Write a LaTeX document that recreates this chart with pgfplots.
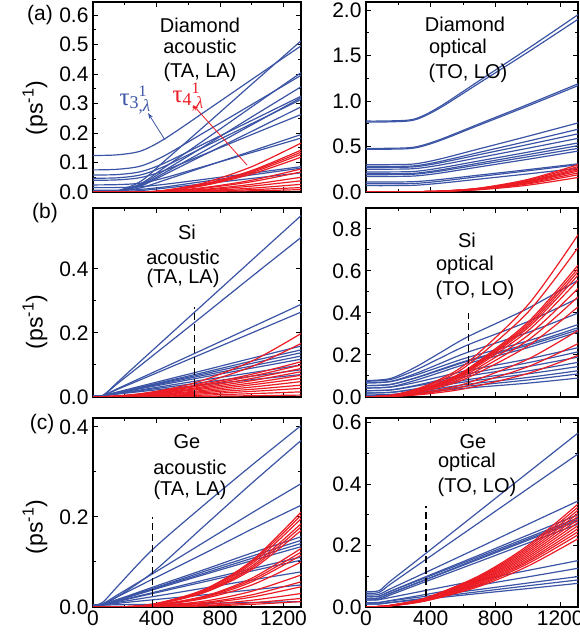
\documentclass[border=0pt]{standalone}
\usepackage{pgfplots}
\pgfplotsset{compat=1.18}
\usepackage{fontspec}
\setmainfont{Liberation Sans}
\newfontfamily\serif{Liberation Serif}
\usetikzlibrary{arrows.meta}
\definecolor{bl}{RGB}{59,84,165}
\definecolor{rd}{RGB}{236,28,36}
\pgfplotsset{
 panel/.style={scale only axis, anchor=south west, xmin=0, xmax=1310, ymin=0,
  xtick={0,400,800,1200}, minor x tick num=1, minor y tick num=1,
  tick align=inside, tick pos=both, axis line style={line width=1.5pt},
  major tick length=5pt, minor tick length=3pt,
  every tick/.style={line width=1pt, black},
  tick label style={font=\fontsize{21}{21}\selectfont},
  yticklabel style={xshift=-1pt},
  /pgf/number format/assume math mode=true,
  yticklabel style={/pgf/number format/.cd, fixed, fixed zerofill, precision=1},
  xticklabel style={/pgf/number format/.cd, fixed, precision=0, 1000 sep={}},
  xticklabels={}},
 bottom/.style={xticklabels={0,400,800,1200}},
 bc/.style={bl, line width=1.2pt, smooth, no marks},
 rc/.style={rd, line width=1.2pt, smooth, no marks},
 dsh/.style={black, line width=1.1pt, dash pattern=on 7pt off 4pt, no marks},
}
\newcommand\cA[8]{\addplot[#1] coordinates {(0,#2)(150,#3)(300,#4)(450,#5)(700,#6)(1000,#7)(1310,#8)};}
\newcommand\cBl[8]{\addplot[#1] coordinates {(0,#2)(60,#3)(150,#4)(300,#5)(640,#6)(1000,#7)(1310,#8)};}
\newcommand\cBr[8]{\addplot[#1] coordinates {(0,#2)(150,#3)(300,#4)(450,#5)(632,#6)(1000,#7)(1310,#8)};}
\newcommand\cCl[8]{\addplot[#1] coordinates {(0,#2)(60,#3)(150,#4)(376,#5)(700,#6)(1000,#7)(1310,#8)};}
\newcommand\cCr[8]{\addplot[#1] coordinates {(0,#2)(80,#3)(150,#4)(371,#5)(700,#6)(1000,#7)(1310,#8)};}
\newcommand\fs[1]{\fontsize{#1}{#1}\selectfont}
\begin{document}
\begin{tikzpicture}
\useasboundingbox (0,0) rectangle (579pt,639pt);
% ---------------- (a) left
\begin{axis}[panel, at={(93pt,447pt)}, width=208pt, height=190pt, ymax=0.645, ytick={0,0.1,0.2,0.3,0.4,0.5,0.6}]
\cA{bc}{0}{.004}{.036}{.105}{.223}{.366}{.513}
\cA{bc}{.124}{.126}{.139}{.180}{.271}{.382}{.496}
\cA{bc}{0}{.003}{.028}{.083}{.176}{.289}{.405}
\cA{bc}{.075}{.077}{.088}{.123}{.202}{.297}{.396}
\cA{bc}{0}{.003}{.025}{.073}{.155}{.255}{.357}
\cA{bc}{.058}{.059}{.069}{.098}{.164}{.243}{.325}
\cA{bc}{0}{.003}{.022}{.065}{.139}{.228}{.320}
\cA{bc}{.047}{.048}{.058}{.087}{.153}{.232}{.314}
\cA{bc}{0}{.002}{.020}{.059}{.126}{.206}{.289}
\cA{bc}{.040}{.041}{.049}{.073}{.128}{.195}{.263}
\cA{bc}{0}{.002}{.014}{.040}{.085}{.139}{.195}
\cA{bc}{.024}{.025}{.030}{.048}{.087}{.134}{.183}
\cA{bc}{.015}{.015}{.018}{.026}{.043}{.064}{.086}
\cA{bc}{.006}{.006}{.009}{.017}{.036}{.058}{.081}
\cA{bc}{0}{.001}{.005}{.013}{.028}{.046}{.065}
\cA{rc}{0}{0}{0}{.0055}{.031}{.086}{.166}
\cA{rc}{0}{0}{0}{.005}{.027}{.073}{.142}
\cA{rc}{0}{0}{0}{.0045}{.026}{.070}{.135}
\cA{rc}{0}{0}{0}{.004}{.024}{.066}{.128}
\cA{rc}{0}{0}{0}{.004}{.022}{.061}{.118}
\cA{rc}{0}{0}{0}{.003}{.015}{.040}{.078}
\cA{rc}{0}{0}{0}{.002}{.013}{.035}{.068}
\cA{rc}{0}{0}{0}{.002}{.009}{.026}{.050}
\cA{rc}{0}{0}{0}{.001}{.007}{.020}{.038}
\cA{rc}{0}{0}{0}{.001}{.005}{.013}{.026}
\cA{rc}{0}{0}{0}{0}{.003}{.008}{.015}
\cA{rc}{0}{0}{0}{0}{.002}{.004}{.008}
\end{axis}
% ---------------- (a) right
\begin{axis}[panel, at={(366pt,447pt)}, width=212pt, height=190pt, ymax=2.09, ytick={0,0.5,1,1.5,2}]
\cA{bc}{.78}{.782}{.803}{.932}{1.225}{1.576}{1.95}
\cA{bc}{.77}{.772}{.793}{.917}{1.199}{1.538}{1.90}
\cA{bc}{.48}{.481}{.494}{.572}{.750}{.963}{1.19}
\cA{bc}{.47}{.471}{.484}{.561}{.736}{.946}{1.17}
\cA{bc}{.30}{.301}{.309}{.360}{.475}{.613}{.76}
\cA{bc}{.28}{.281}{.288}{.333}{.436}{.559}{.69}
\cA{bc}{.27}{.271}{.277}{.318}{.411}{.522}{.64}
\cA{bc}{.25}{.251}{.257}{.294}{.379}{.481}{.59}
\cA{bc}{.22}{.221}{.226}{.262}{.342}{.438}{.54}
\cA{bc}{.20}{.201}{.206}{.240}{.318}{.411}{.51}
\cA{bc}{.19}{.191}{.196}{.228}{.300}{.387}{.48}
\cA{bc}{.17}{.171}{.176}{.206}{.276}{.360}{.45}
\cA{bc}{.11}{.110}{.114}{.136}{.186}{.246}{.31}
\cA{bc}{.09}{.090}{.094}{.117}{.170}{.233}{.30}
\cA{bc}{.07}{.070}{.074}{.095}{.142}{.199}{.26}
\cA{rc}{.004}{.004}{.004}{.0085}{.043}{.138}{.30}
\cA{rc}{.004}{.004}{.004}{.0082}{.040}{.129}{.28}
\cA{rc}{.004}{.004}{.004}{.0079}{.038}{.120}{.26}
\cA{rc}{.004}{.004}{.004}{.0077}{.036}{.113}{.245}
\cA{rc}{.004}{.004}{.004}{.0075}{.034}{.107}{.23}
\cA{rc}{.004}{.004}{.004}{.0072}{.031}{.098}{.21}
\cA{rc}{.004}{.004}{.004}{.0069}{.029}{.089}{.19}
\cA{rc}{.004}{.004}{.004}{.0064}{.025}{.075}{.16}
\end{axis}
% ---------------- (b) left
\begin{axis}[panel, at={(93pt,242pt)}, width=208pt, height=189pt, ymax=0.59, ytick={0,0.2,0.4}]
\cBl{bc}{.004}{.004}{.044}{.112}{.265}{.427}{.566}
\cBl{bc}{.004}{.004}{.040}{.099}{.233}{.376}{.498}
\cBl{bc}{.004}{.004}{.025}{.059}{.136}{.218}{.289}
\cBl{bc}{.004}{.004}{.023}{.054}{.125}{.200}{.265}
\cBl{bc}{.004}{.004}{.015}{.034}{.076}{.121}{.159}
\cBl{bc}{.004}{.004}{.014}{.031}{.070}{.112}{.147}
\cBl{bc}{.004}{.004}{.014}{.030}{.066}{.105}{.138}
\cBl{bc}{.004}{.004}{.013}{.028}{.062}{.097}{.128}
\cBl{bc}{.004}{.004}{.012}{.026}{.057}{.090}{.118}
\cBl{bc}{.004}{.004}{.011}{.022}{.049}{.076}{.100}
\cBl{bc}{.004}{.004}{.010}{.020}{.042}{.065}{.085}
\cBl{bc}{.004}{.004}{.009}{.017}{.035}{.054}{.070}
\cBl{rc}{0}{.0003}{.002}{.009}{.044}{.112}{.198}
\cBl{rc}{0}{.0003}{.0018}{.0075}{.037}{.095}{.167}
\cBl{rc}{0}{.0008}{.0034}{.0105}{.035}{.071}{.110}
\cBl{rc}{0}{.0007}{.0031}{.0095}{.032}{.065}{.100}
\cBl{rc}{0}{.0006}{.0028}{.0085}{.028}{.058}{.089}
\cBl{rc}{0}{.0006}{.0024}{.0075}{.025}{.051}{.079}
\cBl{rc}{0}{.0005}{.0021}{.0065}{.022}{.044}{.068}
\cBl{rc}{0}{.0004}{.0018}{.0055}{.018}{.038}{.058}
\cBl{rc}{0}{.0003}{.0015}{.0046}{.015}{.031}{.048}
\cBl{rc}{0}{.0003}{.0011}{.0035}{.012}{.024}{.037}
\cBl{rc}{0}{.0002}{.0008}{.0026}{.0086}{.0175}{.027}
\cBl{rc}{0}{.0001}{.0005}{.0015}{.0051}{.0104}{.016}
\cBl{rc}{0}{0}{.0002}{.0006}{.0019}{.0039}{.006}
\addplot[dsh] coordinates {(638,0)(638,0.28)};
\end{axis}
% ---------------- (b) right
\begin{axis}[panel, at={(366pt,242pt)}, width=212pt, height=189pt, ymax=0.9, ytick={0,0.2,0.4,0.6,0.8}]
\cBr{bc}{.078}{.088}{.140}{.207}{.288}{.422}{.556}
\cBr{bc}{.075}{.083}{.126}{.182}{.249}{.359}{.470}
\cBr{bc}{.067}{.074}{.110}{.157}{.214}{.307}{.400}
\cBr{bc}{.067}{.073}{.103}{.142}{.189}{.267}{.345}
\cBr{bc}{.054}{.060}{.090}{.129}{.175}{.253}{.330}
\cBr{bc}{.054}{.059}{.089}{.126}{.171}{.246}{.320}
\cBr{bc}{.043}{.048}{.078}{.115}{.160}{.235}{.310}
\cBr{bc}{.043}{.047}{.068}{.095}{.127}{.181}{.235}
\cBr{bc}{.030}{.034}{.054}{.080}{.111}{.163}{.215}
\cBr{bc}{.030}{.033}{.051}{.073}{.100}{.145}{.190}
\cBr{bc}{.019}{.022}{.038}{.058}{.083}{.124}{.165}
\cBr{bc}{.019}{.022}{.035}{.053}{.074}{.110}{.145}
\cBr{bc}{.010}{.012}{.025}{.041}{.061}{.093}{.125}
\cBr{bc}{.006}{.008}{.020}{.034}{.052}{.081}{.110}
\cBr{bc}{.006}{.008}{.017}{.029}{.043}{.066}{.090}
\cBr{rc}{0}{.008}{.035}{.082}{.167}{.438}{.772}
\cBr{rc}{0}{.0075}{.032}{.075}{.154}{.403}{.711}
\cBr{rc}{0}{.0067}{.028}{.067}{.136}{.356}{.628}
\cBr{rc}{0}{.0065}{.028}{.065}{.132}{.347}{.612}
\cBr{rc}{0}{.0063}{.027}{.063}{.129}{.338}{.597}
\cBr{rc}{0}{.0061}{.026}{.061}{.125}{.329}{.580}
\cBr{rc}{0}{.0059}{.025}{.059}{.120}{.315}{.556}
\cBr{rc}{0}{.0055}{.023}{.055}{.112}{.293}{.517}
\cBr{rc}{0}{.0051}{.021}{.051}{.103}{.270}{.477}
\cBr{rc}{0}{.0045}{.019}{.045}{.093}{.243}{.429}
\cBr{rc}{0}{.0034}{.014}{.034}{.068}{.180}{.317}
\cBr{rc}{0}{.0027}{.011}{.027}{.055}{.144}{.254}
\cBr{rc}{0}{.0021}{.009}{.021}{.043}{.112}{.198}
\addplot[dsh] coordinates {(632,0.057)(632,0.40)};
\end{axis}
% ---------------- (c) left
\begin{axis}[panel, bottom, at={(93pt,32pt)}, width=208pt, height=189pt, ymax=0.42, ytick={0,0.2,0.4}]
\cCl{bc}{.004}{.010}{.044}{.128}{.227}{.315}{.403}
\cCl{bc}{.004}{.006}{.022}{.077}{.180}{.275}{.370}
\cCl{bc}{.004}{.007}{.026}{.074}{.144}{.209}{.274}
\cCl{bc}{.004}{.006}{.022}{.062}{.119}{.173}{.226}
\cCl{bc}{.004}{.006}{.016}{.044}{.083}{.120}{.156}
\cCl{bc}{.004}{.005}{.016}{.041}{.079}{.113}{.148}
\cCl{bc}{.004}{.005}{.015}{.040}{.075}{.108}{.141}
\cCl{bc}{.004}{.005}{.014}{.038}{.072}{.103}{.134}
\cCl{bc}{.004}{.005}{.013}{.032}{.060}{.085}{.111}
\cCl{bc}{.004}{.005}{.012}{.030}{.056}{.080}{.104}
\cCl{bc}{.004}{.005}{.010}{.023}{.042}{.060}{.078}
\cCl{bc}{.004}{.004}{.008}{.016}{.027}{.038}{.049}
\cCl{bc}{.004}{.004}{.005}{.006}{.008}{.010}{.012}
\cCl{rc}{0}{0}{.0001}{.0061}{.039}{.103}{.211}
\cCl{rc}{0}{0}{.0001}{.0059}{.038}{.100}{.204}
\cCl{rc}{0}{0}{.0001}{.0057}{.036}{.096}{.196}
\cCl{rc}{0}{0}{.0001}{.0054}{.034}{.091}{.185}
\cCl{rc}{0}{0}{.0001}{.0052}{.033}{.087}{.178}
\cCl{rc}{0}{0}{.0001}{.0049}{.032}{.083}{.170}
\cCl{rc}{0}{0}{.0001}{.0038}{.024}{.064}{.130}
\cCl{rc}{0}{0}{.0001}{.0035}{.023}{.060}{.122}
\cCl{rc}{0}{0}{.0001}{.0033}{.021}{.056}{.115}
\cCl{rc}{0}{0}{.0001}{.0029}{.019}{.049}{.100}
\cCl{rc}{0}{0}{0}{.0021}{.013}{.035}{.071}
\cCl{rc}{0}{0}{0}{.0016}{.010}{.027}{.056}
\cCl{rc}{0}{0}{0}{.0013}{.0084}{.022}{.045}
\cCl{rc}{0}{0}{0}{.0009}{.0056}{.015}{.030}
\cCl{rc}{0}{0}{0}{.0006}{.0035}{.0093}{.019}
\cCl{rc}{0}{0}{0}{.0003}{.0022}{.0059}{.012}
\addplot[dsh] coordinates {(376,0)(376,0.2)};
\end{axis}
% ---------------- (c) right
\begin{axis}[panel, bottom, at={(366pt,32pt)}, width=212pt, height=189pt, ymax=0.615, ytick={0,0.2,0.4,0.6}]
\cCr{bc}{.050}{.053}{.084}{.175}{.312}{.437}{.566}
\cCr{bc}{.045}{.047}{.074}{.155}{.275}{.385}{.498}
\cCr{bc}{.039}{.041}{.059}{.113}{.194}{.269}{.345}
\cCr{bc}{.034}{.035}{.051}{.099}{.169}{.234}{.300}
\cCr{bc}{.034}{.035}{.051}{.096}{.164}{.226}{.290}
\cCr{bc}{.028}{.029}{.045}{.090}{.159}{.221}{.285}
\cCr{bc}{.028}{.029}{.044}{.089}{.156}{.217}{.280}
\cCr{bc}{.023}{.024}{.039}{.083}{.148}{.208}{.270}
\cCr{bc}{.023}{.024}{.031}{.054}{.088}{.119}{.151}
\cCr{bc}{.014}{.015}{.021}{.041}{.071}{.098}{.126}
\cCr{bc}{.014}{.014}{.020}{.035}{.057}{.078}{.099}
\cCr{bc}{.010}{.010}{.015}{.029}{.050}{.069}{.088}
\cCr{bc}{.010}{.010}{.014}{.026}{.044}{.060}{.077}
\cCr{rc}{0}{.0017}{.0054}{.030}{.102}{.200}{.335}
\cCr{rc}{0}{.0016}{.0052}{.029}{.099}{.194}{.325}
\cCr{rc}{0}{.0016}{.0050}{.028}{.096}{.188}{.315}
\cCr{rc}{0}{.0015}{.0049}{.027}{.093}{.182}{.305}
\cCr{rc}{0}{.0015}{.0047}{.027}{.090}{.176}{.295}
\cCr{rc}{0}{.0014}{.0046}{.026}{.087}{.170}{.285}
\cCr{rc}{0}{.0014}{.0044}{.025}{.084}{.164}{.275}
\cCr{rc}{0}{.0013}{.0042}{.024}{.081}{.158}{.265}
\cCr{rc}{0}{.0013}{.0041}{.023}{.078}{.152}{.255}
\cCr{rc}{0}{.0012}{.0039}{.022}{.074}{.147}{.245}
\cCr{rc}{0}{.0012}{.0038}{.021}{.071}{.141}{.235}
\cCr{rc}{0}{.0011}{.0036}{.020}{.067}{.133}{.222}
\addplot[dsh] coordinates {(371,0.035)(371,0.33)};
\end{axis}
% ---------------- texts
\begin{scope}[every node/.style={font=\fs{20}, inner sep=0pt}]
\node at (200pt,614pt) {Diamond};
\node at (200pt,593pt) {acoustic};
\node at (200pt,567pt) {(TA, LA)};
\node at (465pt,615pt) {Diamond};
\node at (458pt,591pt) {optical};
\node at (468pt,566pt) {(TO, LO)};
\node at (187pt,407pt) {Si};
\node at (183pt,382pt) {acoustic};
\node at (183pt,361pt) {(TA, LA)};
\node at (467pt,399pt) {Si};
\node at (465pt,374pt) {optical};
\node at (475pt,349pt) {(TO, LO)};
\node at (187pt,197pt) {Ge};
\node at (190pt,172pt) {acoustic};
\node at (190pt,149pt) {(TA, LA)};
\node at (473pt,197pt) {Ge};
\node at (467pt,177pt) {optical};
\node at (477pt,152pt) {(TO, LO)};
\end{scope}
\begin{scope}[every node/.style={font=\fs{21}, inner sep=0pt}]
\node at (40pt,624pt) {(a)};
\node at (45pt,426pt) {(b)};
\node at (42pt,215pt) {(c)};
\end{scope}
\begin{scope}[every node/.style={font=\fs{23}, inner sep=0pt, rotate=90}]
\node at (35pt,531pt) {(ps\textsuperscript{-1})};
\node at (35pt,317pt) {(ps\textsuperscript{-1})};
\node at (35pt,112pt) {(ps\textsuperscript{-1})};
\end{scope}
\node[bl, font=\serif\fs{25}, inner sep=0pt] at (135pt,539pt) {τ\raisebox{-3pt}{\fs{18}3}\rlap{\raisebox{9pt}{\fs{16}1}}\raisebox{-6pt}{\fs{17},\textit{λ}}};
\node[rd, font=\serif\fs{25}, inner sep=0pt] at (188pt,542pt) {τ\raisebox{-3pt}{\fs{18}4}\rlap{\raisebox{9pt}{\fs{16}1}}\raisebox{-6pt}{\fs{17},\textit{λ}}};
\draw[bl, line width=0.8pt, -{Stealth[length=6pt,width=4pt]}] (165pt,499pt) -- (148pt,526pt);
\draw[rd, line width=0.8pt, -{Stealth[length=6pt,width=4pt]}] (247pt,474pt) -- (193pt,534pt);
\end{tikzpicture}
\end{document}
